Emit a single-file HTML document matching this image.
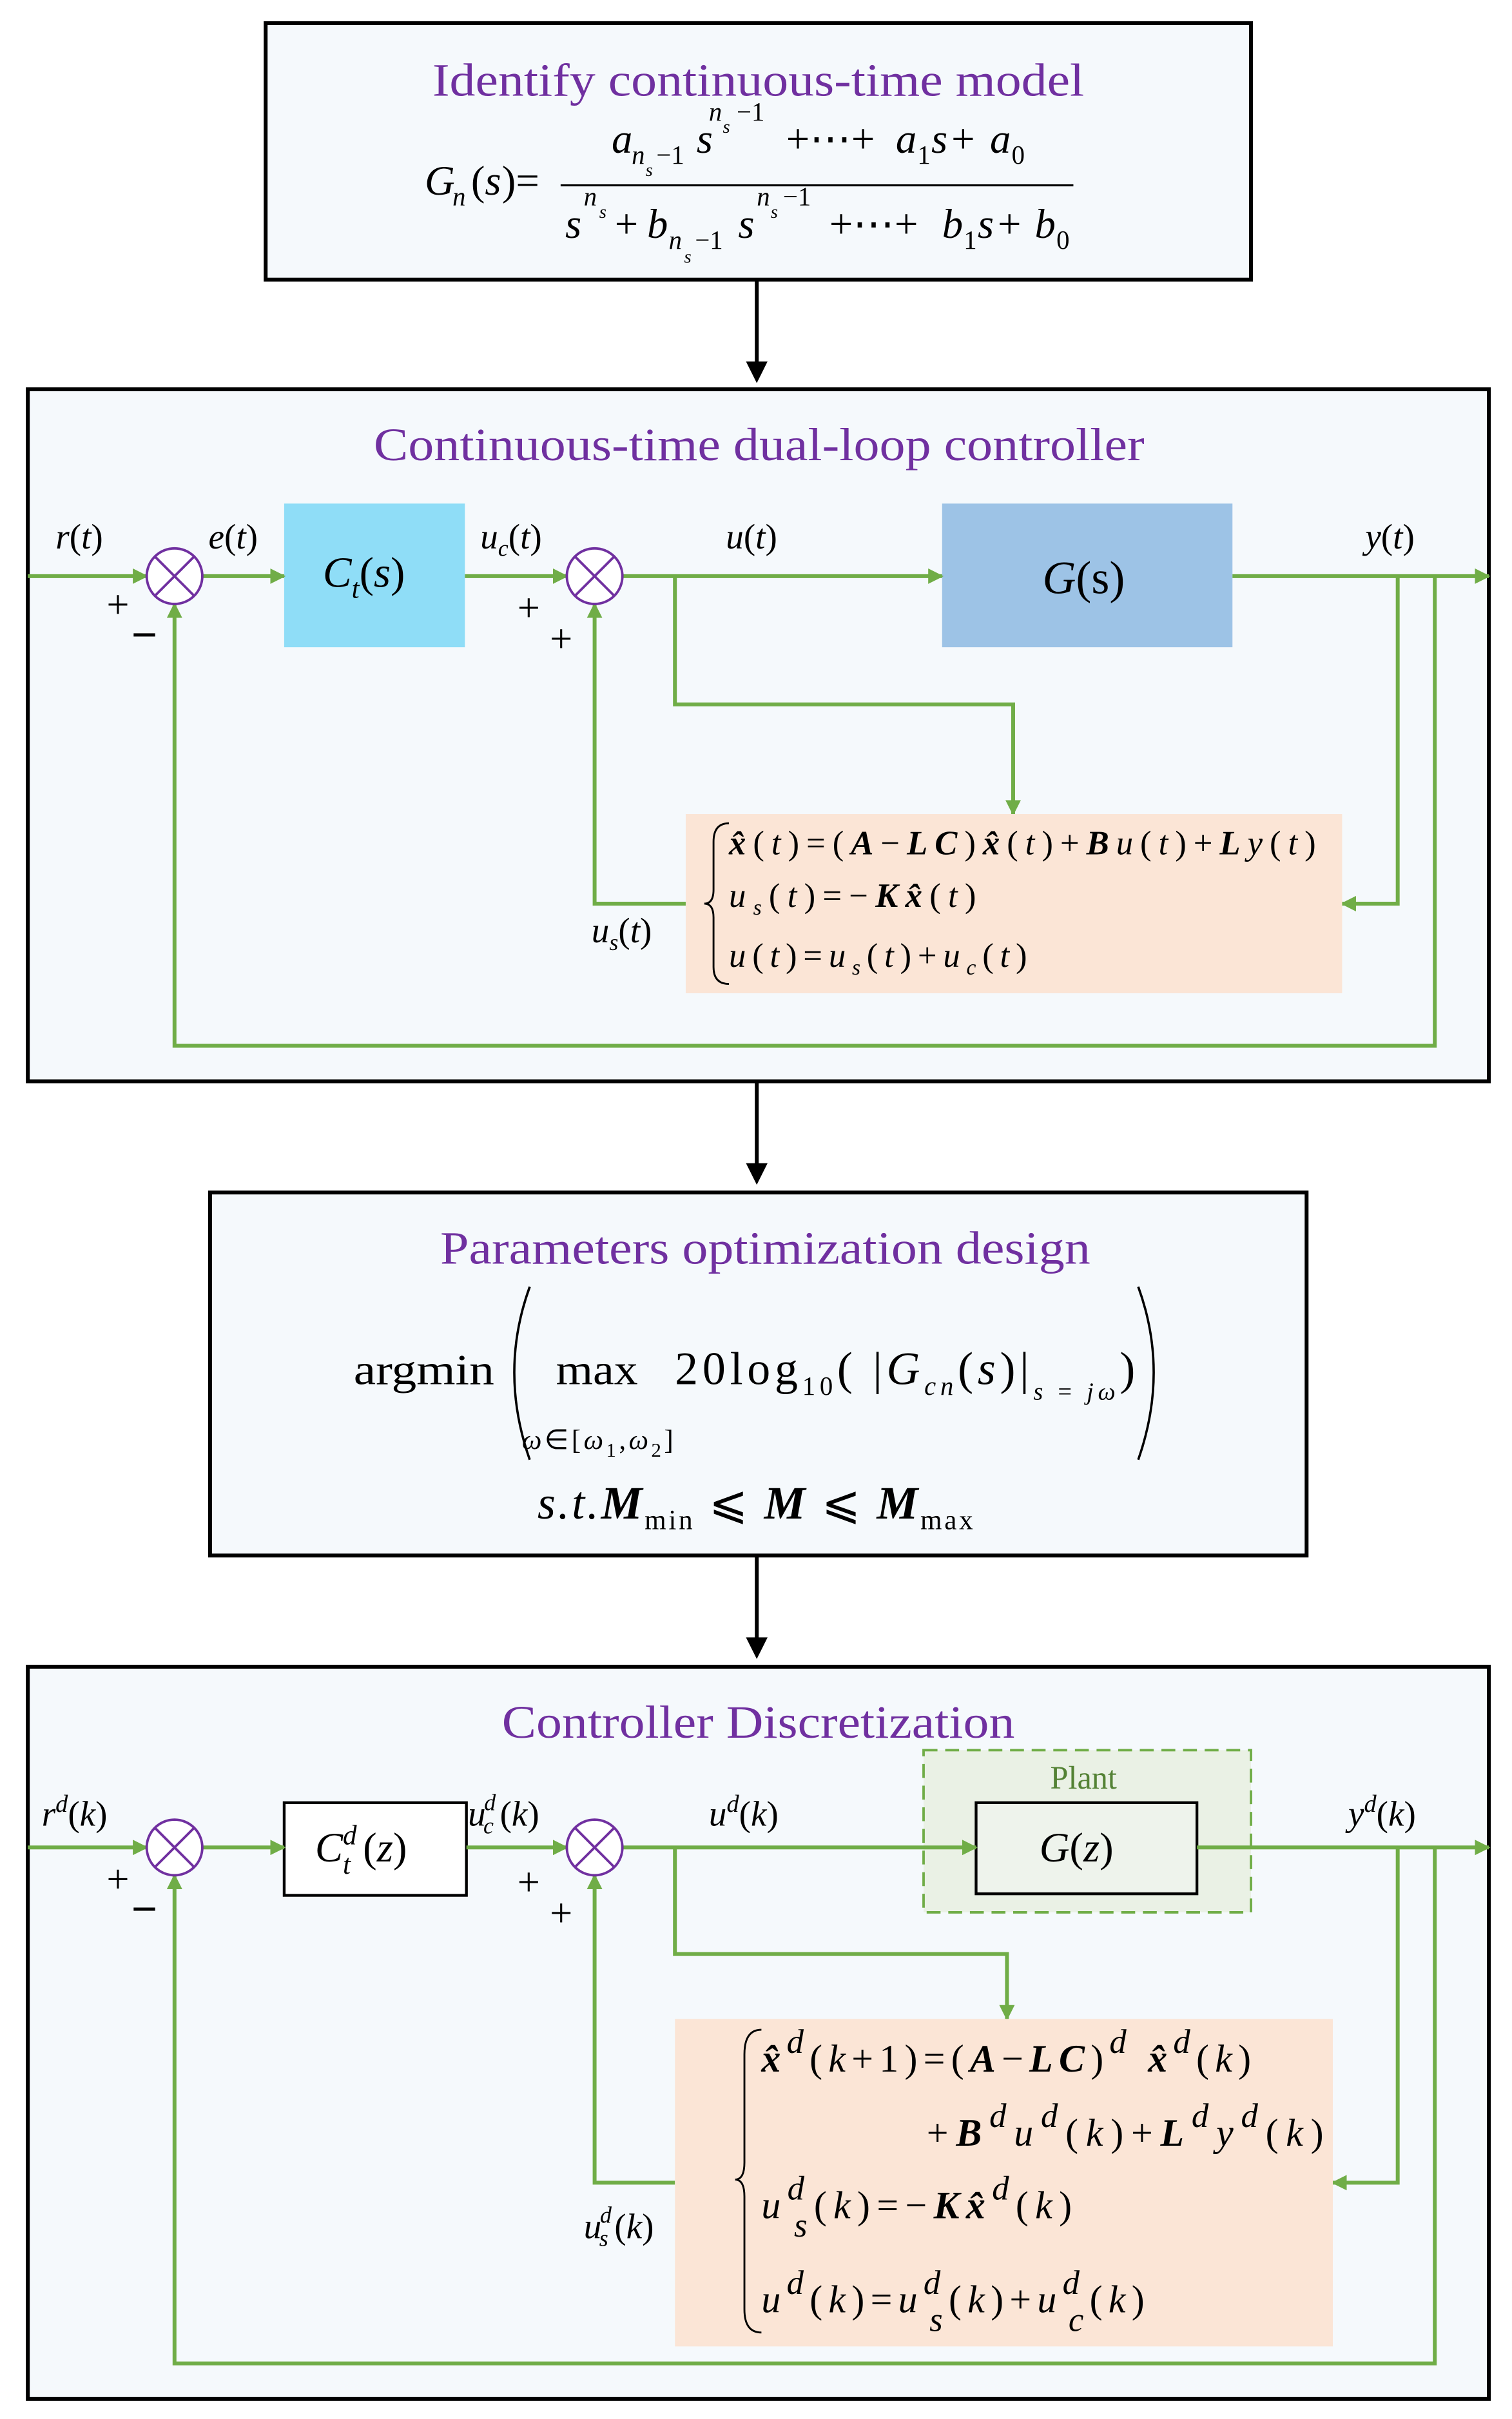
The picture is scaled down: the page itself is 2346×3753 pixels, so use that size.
<!DOCTYPE html>
<html><head><meta charset="utf-8"><style>
html,body{margin:0;padding:0;background:#fff}
svg{display:block}
text{font-family:"Liberation Serif",serif}
.i{font-style:italic}
.t{fill:#7030A0;font-size:30px}
.b{font-weight:bold}
</style></head><body>
<svg width="2346" height="3753" viewBox="0 0 979 1566" preserveAspectRatio="none" xmlns="http://www.w3.org/2000/svg">
<defs>
<marker id="ga" markerWidth="10" markerHeight="10" refX="9" refY="5" orient="auto" markerUnits="userSpaceOnUse" viewBox="0 0 10 10"><path d="M0,0 L10,5 L0,10z" fill="#70AD47"/></marker>
</defs>
<rect width="979" height="1566" fill="#fff"/>
<!-- Box 1 -->
<rect x="172" y="15" width="638" height="166" fill="#F5F9FC" stroke="#000" stroke-width="2.5"/>
<text x="280" y="62" class="t" textLength="422" lengthAdjust="spacingAndGlyphs">Identify continuous-time model</text>
<g class="i" font-size="27">
<text x="275" y="126">G</text><text x="293" y="133" font-size="17">n</text><text x="305" y="126" font-style="normal">(</text><text x="314" y="126">s</text><text x="325" y="126" font-style="normal">)=</text>
<line x1="363" y1="120" x2="695" y2="120" stroke="#000" stroke-width="1.3"/>
<text x="396" y="99">a</text><text x="409" y="106" font-size="17">n</text><text x="418" y="114" font-size="12">s</text><text x="425" y="106" font-size="17" font-style="normal">−1</text><text x="451" y="99">s</text>
<text x="459" y="78" font-size="17">n</text><text x="468" y="86" font-size="12">s</text><text x="477" y="78" font-size="17" font-style="normal">−1</text>
<text x="509" y="99" font-style="normal">+⋯+</text><text x="580" y="99">a</text><text x="594" y="106" font-size="17" font-style="normal">1</text><text x="603" y="99">s</text><text x="616" y="99" font-style="normal">+</text><text x="641" y="99">a</text><text x="655" y="106" font-size="17" font-style="normal">0</text>
<text x="366" y="154">s</text><text x="378" y="133" font-size="17">n</text><text x="388" y="141" font-size="12">s</text>
<text x="398" y="154" font-style="normal">+</text><text x="419" y="154">b</text><text x="433" y="161" font-size="17">n</text><text x="443" y="170" font-size="12">s</text><text x="450" y="161" font-size="17" font-style="normal">−1</text><text x="478" y="154">s</text>
<text x="490" y="133" font-size="17">n</text><text x="499" y="141" font-size="12">s</text><text x="507" y="133" font-size="17" font-style="normal">−1</text>
<text x="537" y="154" font-style="normal">+⋯+</text><text x="610" y="154">b</text><text x="624" y="161" font-size="17" font-style="normal">1</text><text x="633" y="154">s</text><text x="646" y="154" font-style="normal">+</text><text x="670" y="154">b</text><text x="684" y="161" font-size="17" font-style="normal">0</text>
</g>
<line x1="490" y1="181" x2="490" y2="238" stroke="#000" stroke-width="2.5"/><path d="M483,234 L497,234 L490,248z" fill="#000"/>
<!-- Box 2 -->
<rect x="18" y="252" width="946" height="448" fill="#F5F9FC" stroke="#000" stroke-width="2.5"/>
<text x="242" y="298" class="t" textLength="499" lengthAdjust="spacingAndGlyphs">Continuous-time dual-loop controller</text>
<rect x="184" y="326" width="117" height="93" fill="#8FDDF7"/>
<rect x="610" y="326" width="188" height="93" fill="#9DC3E6"/>
<g stroke="#70AD47" stroke-width="2.5" fill="none">
<line x1="18" y1="373" x2="95" y2="373" marker-end="url(#ga)"/>
<line x1="131" y1="373" x2="184" y2="373" marker-end="url(#ga)"/>
<line x1="301" y1="373" x2="367" y2="373" marker-end="url(#ga)"/>
<line x1="403" y1="373" x2="610" y2="373" marker-end="url(#ga)"/>
<line x1="798" y1="373" x2="964" y2="373" marker-end="url(#ga)"/>
<polyline points="437,373 437,456 656,456 656,527" marker-end="url(#ga)"/>
<polyline points="905,373 905,585 869,585" marker-end="url(#ga)"/>
<polyline points="444,585 385,585 385,391" marker-end="url(#ga)"/>
<polyline points="929,373 929,677 113,677 113,391" marker-end="url(#ga)"/>
</g>
<g stroke="#7030A0" stroke-width="1.6" fill="#fff">
<circle cx="113" cy="373" r="18"/><circle cx="385" cy="373" r="18"/>
</g>
<g stroke="#7030A0" stroke-width="1.6">
<line x1="100" y1="360" x2="126" y2="386"/><line x1="126" y1="360" x2="100" y2="386"/>
<line x1="372" y1="360" x2="398" y2="386"/><line x1="398" y1="360" x2="372" y2="386"/>
</g>
<g font-size="23">
<text x="36" y="355"><tspan class="i">r</tspan>(<tspan class="i">t</tspan>)</text>
<text x="135" y="355"><tspan class="i">e</tspan>(<tspan class="i">t</tspan>)</text>
<text x="311" y="355"><tspan class="i">u</tspan><tspan class="i" font-size="15" dy="5">c</tspan><tspan dy="-5">(</tspan><tspan class="i">t</tspan>)</text>
<text x="470" y="355"><tspan class="i">u</tspan>(<tspan class="i">t</tspan>)</text>
<text x="884" y="355"><tspan class="i">y</tspan>(<tspan class="i">t</tspan>)</text>
<text x="69" y="400" font-size="26">+</text><text x="85" y="421" font-size="30" font-weight="bold">−</text>
<text x="335" y="402" font-size="26">+</text><text x="356" y="422" font-size="26">+</text>
<text x="383" y="610"><tspan class="i">u</tspan><tspan class="i" font-size="15" dy="5">s</tspan><tspan dy="-5">(</tspan><tspan class="i">t</tspan>)</text>
<text x="209" y="380" font-size="28"><tspan class="i">C</tspan><tspan class="i" font-size="18" dy="7">t</tspan><tspan dy="-7">(</tspan><tspan class="i">s</tspan>)</text>
<text x="675" y="384" font-size="30"><tspan class="i">G</tspan>(s)</text>
</g>
<rect x="444" y="527" width="425" height="116" fill="#FBE5D6"/>
<path d="M472,533 Q462,533 462,545 L462,576 Q462,585 456,585 Q462,585 462,594 L462,626 Q462,637 472,637" fill="none" stroke="#000" stroke-width="1.2"/>
<g font-size="22">
<text x="472" y="553" textLength="380" lengthAdjust="spacing"><tspan class="b i">x̂</tspan>(<tspan class="i">t</tspan>)=(<tspan class="b i">A</tspan>−<tspan class="b i">LC</tspan>)<tspan class="b i">x̂</tspan>(<tspan class="i">t</tspan>)+<tspan class="b i">B</tspan><tspan class="i">u</tspan>(<tspan class="i">t</tspan>)+<tspan class="b i">L</tspan><tspan class="i">y</tspan>(<tspan class="i">t</tspan>)</text>
<text x="472" y="587" textLength="160" lengthAdjust="spacing"><tspan class="i">u</tspan><tspan class="i" font-size="14" dy="5">s</tspan><tspan dy="-5">(</tspan><tspan class="i">t</tspan>)=−<tspan class="b i">Kx̂</tspan>(<tspan class="i">t</tspan>)</text>
<text x="472" y="626" textLength="193" lengthAdjust="spacing"><tspan class="i">u</tspan>(<tspan class="i">t</tspan>)=<tspan class="i">u</tspan><tspan class="i" font-size="14" dy="5">s</tspan><tspan dy="-5">(</tspan><tspan class="i">t</tspan>)+<tspan class="i">u</tspan><tspan class="i" font-size="14" dy="5">c</tspan><tspan dy="-5">(</tspan><tspan class="i">t</tspan>)</text>
</g>
<line x1="490" y1="700" x2="490" y2="757" stroke="#000" stroke-width="2.5"/><path d="M483,753 L497,753 L490,767z" fill="#000"/>
<!-- Box 3 -->
<rect x="136" y="772" width="710" height="235" fill="#F5F9FC" stroke="#000" stroke-width="2.5"/>
<text x="285" y="818" class="t" textLength="421" lengthAdjust="spacingAndGlyphs">Parameters optimization design</text>
<text x="229" y="896" font-size="28" textLength="91" lengthAdjust="spacingAndGlyphs">argmin</text>
<path d="M343,833 Q323,888 343,945" fill="none" stroke="#000" stroke-width="1.5"/>
<path d="M737,833 Q757,888 737,945" fill="none" stroke="#000" stroke-width="1.5"/>
<text x="360" y="896" font-size="28" textLength="53" lengthAdjust="spacingAndGlyphs">max</text>
<text x="338" y="938" font-size="18" textLength="98" lengthAdjust="spacing"><tspan class="i">ω</tspan>∈[<tspan class="i">ω</tspan><tspan font-size="13" dy="5">1</tspan><tspan dy="-5">,</tspan><tspan class="i">ω</tspan><tspan font-size="13" dy="5">2</tspan><tspan dy="-5">]</tspan></text>
<text x="437" y="896" font-size="30" textLength="298" lengthAdjust="spacing">20log<tspan font-size="17" dy="7">10</tspan><tspan dy="-7">( |</tspan><tspan class="i">G</tspan><tspan class="i" font-size="17" dy="7">cn</tspan><tspan dy="-7">(</tspan><tspan class="i">s</tspan>)|<tspan font-size="16" dy="10"><tspan class="i">s</tspan> = <tspan class="i">jω</tspan></tspan><tspan dy="-10">)</tspan></text>
<text x="348" y="983" font-size="30" textLength="282" lengthAdjust="spacing"><tspan class="i">s.t.</tspan><tspan class="b i">M</tspan><tspan font-size="18" dy="7">min</tspan><tspan dy="-7"> ⩽ </tspan><tspan class="b i">M</tspan> ⩽ <tspan class="b i">M</tspan><tspan font-size="18" dy="7">max</tspan></text>
<line x1="490" y1="1007" x2="490" y2="1064" stroke="#000" stroke-width="2.5"/><path d="M483,1060 L497,1060 L490,1074z" fill="#000"/>
<!-- Box 4 -->
<rect x="18" y="1079" width="946" height="474" fill="#F5F9FC" stroke="#000" stroke-width="2.5"/>
<text x="325" y="1125" class="t" textLength="332" lengthAdjust="spacingAndGlyphs">Controller Discretization</text>
<rect x="598" y="1133" width="212" height="105" fill="#EAF1E5" stroke="#70AD47" stroke-width="1.6" stroke-dasharray="9,5"/>
<text x="680" y="1158" font-size="21" fill="#548235">Plant</text>
<rect x="184" y="1167" width="118" height="60" fill="#fff" stroke="#000" stroke-width="1.8"/>
<rect x="632" y="1167" width="143" height="59" fill="#EEF3EC" stroke="#000" stroke-width="1.8"/>
<g stroke="#70AD47" stroke-width="2.5" fill="none">
<line x1="18" y1="1196" x2="95" y2="1196" marker-end="url(#ga)"/>
<line x1="131" y1="1196" x2="184" y2="1196" marker-end="url(#ga)"/>
<line x1="302" y1="1196" x2="367" y2="1196" marker-end="url(#ga)"/>
<line x1="403" y1="1196" x2="632" y2="1196" marker-end="url(#ga)"/>
<line x1="775" y1="1196" x2="964" y2="1196" marker-end="url(#ga)"/>
<polyline points="437,1196 437,1265 652,1265 652,1307" marker-end="url(#ga)"/>
<polyline points="905,1196 905,1413 863,1413" marker-end="url(#ga)"/>
<polyline points="437,1413 385,1413 385,1214" marker-end="url(#ga)"/>
<polyline points="929,1196 929,1530 113,1530 113,1214" marker-end="url(#ga)"/>
</g>
<g stroke="#7030A0" stroke-width="1.6" fill="#fff">
<circle cx="113" cy="1196" r="18"/><circle cx="385" cy="1196" r="18"/>
</g>
<g stroke="#7030A0" stroke-width="1.6">
<line x1="100" y1="1183" x2="126" y2="1209"/><line x1="126" y1="1183" x2="100" y2="1209"/>
<line x1="372" y1="1183" x2="398" y2="1209"/><line x1="398" y1="1183" x2="372" y2="1209"/>
</g>
<g font-size="23">
<text x="27" y="1182"><tspan class="i">r</tspan><tspan class="i" font-size="16" dy="-9">d</tspan><tspan dy="9">(</tspan><tspan class="i">k</tspan>)</text>
<text x="303" y="1182"><tspan class="i">u</tspan><tspan class="i" font-size="15" dx="-1" dy="-10">d</tspan><tspan class="i" font-size="15" dx="-8" dy="15">c</tspan><tspan dx="4" dy="-5">(</tspan><tspan class="i">k</tspan>)</text>
<text x="459" y="1182"><tspan class="i">u</tspan><tspan class="i" font-size="16" dy="-9">d</tspan><tspan dy="9">(</tspan><tspan class="i">k</tspan>)</text>
<text x="873" y="1182"><tspan class="i">y</tspan><tspan class="i" font-size="16" dy="-9">d</tspan><tspan dy="9">(</tspan><tspan class="i">k</tspan>)</text>
<text x="69" y="1225" font-size="26">+</text><text x="85" y="1246" font-size="30" font-weight="bold">−</text>
<text x="335" y="1227" font-size="26">+</text><text x="356" y="1247" font-size="26">+</text>
<text x="378" y="1449"><tspan class="i">u</tspan><tspan class="i" font-size="15" dx="-1" dy="-10">d</tspan><tspan class="i" font-size="15" dx="-8" dy="15">s</tspan><tspan dx="4" dy="-5">(</tspan><tspan class="i">k</tspan>)</text>
<text x="204" y="1205" font-size="27"><tspan class="i">C</tspan><tspan class="i" font-size="18" dy="-11">d</tspan><tspan class="i" font-size="18" dx="-9" dy="19">t</tspan><tspan dx="8" dy="-8">(</tspan><tspan class="i">z</tspan>)</text>
<text x="673" y="1205" font-size="27"><tspan class="i">G</tspan>(<tspan class="i">z</tspan>)</text>
</g>
<rect x="437" y="1307" width="426" height="212" fill="#FBE5D6"/>
<path d="M493,1314 Q482,1314 482,1330 L482,1400 Q482,1411 476,1411 Q482,1411 482,1422 L482,1495 Q482,1510 493,1510" fill="none" stroke="#000" stroke-width="1.2"/>
<g font-size="25">
<text x="493" y="1341" textLength="317" lengthAdjust="spacing"><tspan class="b i">x̂</tspan><tspan class="i" font-size="22" dy="-12">d</tspan><tspan dy="12">(</tspan><tspan class="i">k</tspan>+1)=(<tspan class="b i">A</tspan>−<tspan class="b i">LC</tspan>)<tspan class="i" font-size="22" dy="-12">d</tspan><tspan class="b i" dy="12"> x̂</tspan><tspan class="i" font-size="22" dy="-12">d</tspan><tspan dy="12">(</tspan><tspan class="i">k</tspan>)</text>
<text x="600" y="1389" textLength="257" lengthAdjust="spacing">+<tspan class="b i">B</tspan><tspan class="i" font-size="22" dy="-12">d</tspan><tspan class="i" dy="12">u</tspan><tspan class="i" font-size="22" dy="-12">d</tspan><tspan dy="12">(</tspan><tspan class="i">k</tspan>)+<tspan class="b i">L</tspan><tspan class="i" font-size="22" dy="-12">d</tspan><tspan class="i" dy="12">y</tspan><tspan class="i" font-size="22" dy="-12">d</tspan><tspan dy="12">(</tspan><tspan class="i">k</tspan>)</text>
<text x="493" y="1436" textLength="201" lengthAdjust="spacing"><tspan class="i">u</tspan><tspan class="i" font-size="22" dy="-12">d</tspan><tspan class="i" font-size="22" dx="-11" dy="24">s</tspan><tspan dy="-12">(</tspan><tspan class="i">k</tspan>)=−<tspan class="b i">Kx̂</tspan><tspan class="i" font-size="22" dy="-12">d</tspan><tspan dy="12">(</tspan><tspan class="i">k</tspan>)</text>
<text x="493" y="1497" textLength="248" lengthAdjust="spacing"><tspan class="i">u</tspan><tspan class="i" font-size="22" dy="-12">d</tspan><tspan dy="12">(</tspan><tspan class="i">k</tspan>)=<tspan class="i">u</tspan><tspan class="i" font-size="22" dy="-12">d</tspan><tspan class="i" font-size="22" dx="-11" dy="24">s</tspan><tspan dy="-12">(</tspan><tspan class="i">k</tspan>)+<tspan class="i">u</tspan><tspan class="i" font-size="22" dy="-12">d</tspan><tspan class="i" font-size="22" dx="-11" dy="24">c</tspan><tspan dy="-12">(</tspan><tspan class="i">k</tspan>)</text>
</g>
</svg>
</body></html>
